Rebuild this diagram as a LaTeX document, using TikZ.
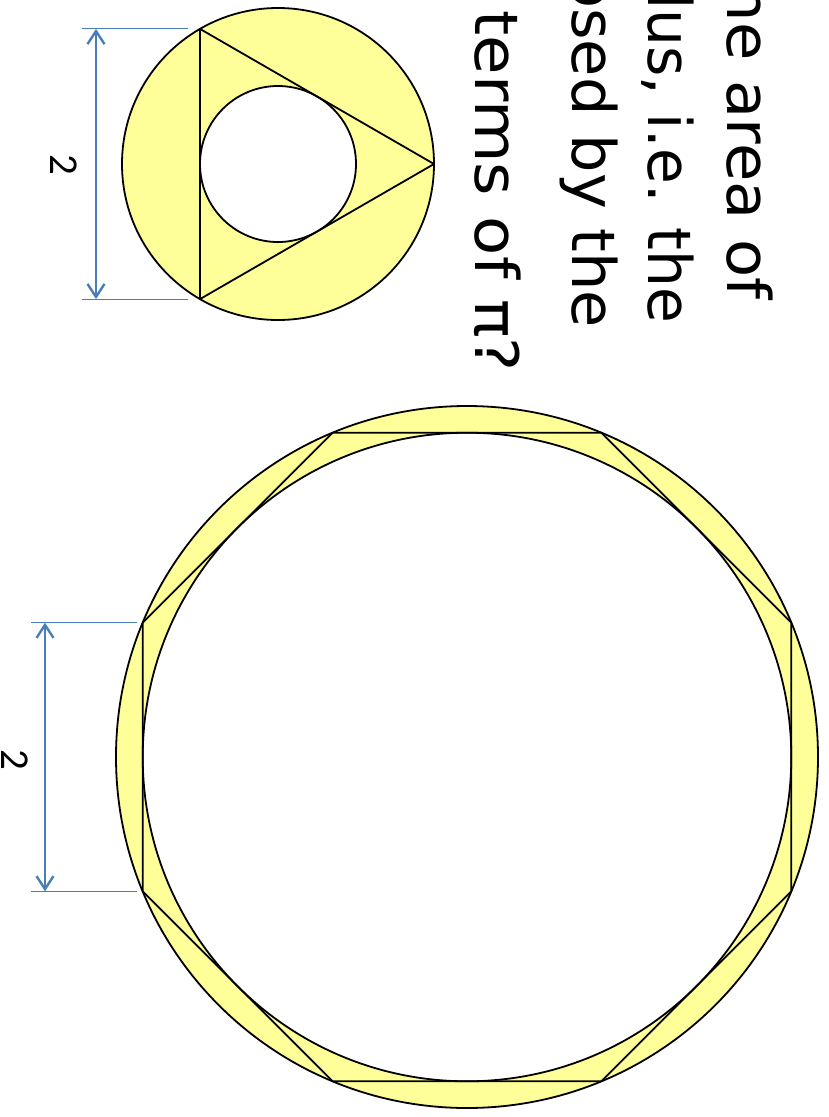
\documentclass[tikz,border=0pt]{standalone}
\usepackage{fontspec}
\setmainfont{DejaVu Sans}
\newfontfamily\dimfont{Carlito}
\usetikzlibrary{arrows.meta}
\definecolor{annfill}{HTML}{FFFF99}
\definecolor{dimblue}{HTML}{4A7EBB}
\begin{document}
\begin{tikzpicture}[x=1pt,y=-1pt,
  outline/.style={draw=black,line width=1.8pt},
  extline/.style={draw=dimblue,line width=1.1pt},
  dimarrow/.style={draw=dimblue,line width=2.4pt,{Straight Barb[length=13pt,width=17pt]}-{Straight Barb[length=13pt,width=17pt]}},
  dimlabel/.style={inner sep=0pt,rotate=-90,font=\dimfont\fontsize{41}{44}\selectfont},
  qtext/.style={inner sep=0pt,rotate=-90,anchor=base east,font=\fontsize{60}{72}\selectfont}]
\useasboundingbox (0,0) rectangle (829,1117);
\clip (0,0) rectangle (829,1117);
% ---------- small figure ----------
\coordinate (sc) at (278,164);
\fill[annfill] (sc) circle[radius=156];
\fill[white] (sc) circle[radius=78];
\coordinate (t1) at (434,164);
\coordinate (t2) at (200,28.9);
\coordinate (t3) at (200,299.1);
\draw[outline] (sc) circle[radius=156];
\draw[outline] (sc) circle[radius=78];
\draw[outline,line join=round] (t1) -- (t2) -- (t3) -- cycle;
% dimension
\coordinate (se1a) at (82,28.9);
\coordinate (se1b) at (188,28.9);
\coordinate (se2a) at (82,299.1);
\coordinate (se2b) at (188,299.1);
\coordinate (sd1) at (96,28.9);
\coordinate (sd2) at (96,299.1);
\draw[extline] (se1a) -- (se1b);
\draw[extline] (se2a) -- (se2b);
\draw[dimarrow] (sd1) -- (sd2);
\node[dimlabel] (slab) at (64,165) {2};
% ---------- large figure ----------
\coordinate (bc) at (467,757);
\fill[annfill] (bc) circle[radius=351];
\fill[white] (bc) circle[radius=324.3];
\coordinate (o1) at (791.3,891.3);
\coordinate (o2) at (601.3,1081.3);
\coordinate (o3) at (332.7,1081.3);
\coordinate (o4) at (142.7,891.3);
\coordinate (o5) at (142.7,622.7);
\coordinate (o6) at (332.7,432.7);
\coordinate (o7) at (601.3,432.7);
\coordinate (o8) at (791.3,622.7);
\draw[outline] (bc) circle[radius=351];
\draw[outline] (bc) circle[radius=324.3];
\draw[outline,line join=round] (o1) -- (o2) -- (o3) -- (o4) -- (o5) -- (o6) -- (o7) -- (o8) -- cycle;
% dimension
\coordinate (be1a) at (31,622.7);
\coordinate (be1b) at (137,622.7);
\coordinate (be2a) at (31,891.3);
\coordinate (be2b) at (137,891.3);
\coordinate (bd1) at (45,622.7);
\coordinate (bd2) at (45,891.3);
\draw[extline] (be1a) -- (be1b);
\draw[extline] (be2a) -- (be2b);
\draw[dimarrow] (bd1) -- (bd2);
\node[dimlabel] (blab) at (15,760) {2};
% ---------- question text ----------
\node[qtext] (q1) at (727,300) {\scalebox{1.04}[1]{he area of}};
\node[qtext] (q2) at (648,323) {\scalebox{0.97}[1]{lus, i.e. the}};
\node[qtext] (q3) at (572,328) {\scalebox{1.01}[1]{osed by the}};
\node[qtext] (q4) at (475,372) {\scalebox{1.07}[1]{terms of π?}};
\end{tikzpicture}
\end{document}
